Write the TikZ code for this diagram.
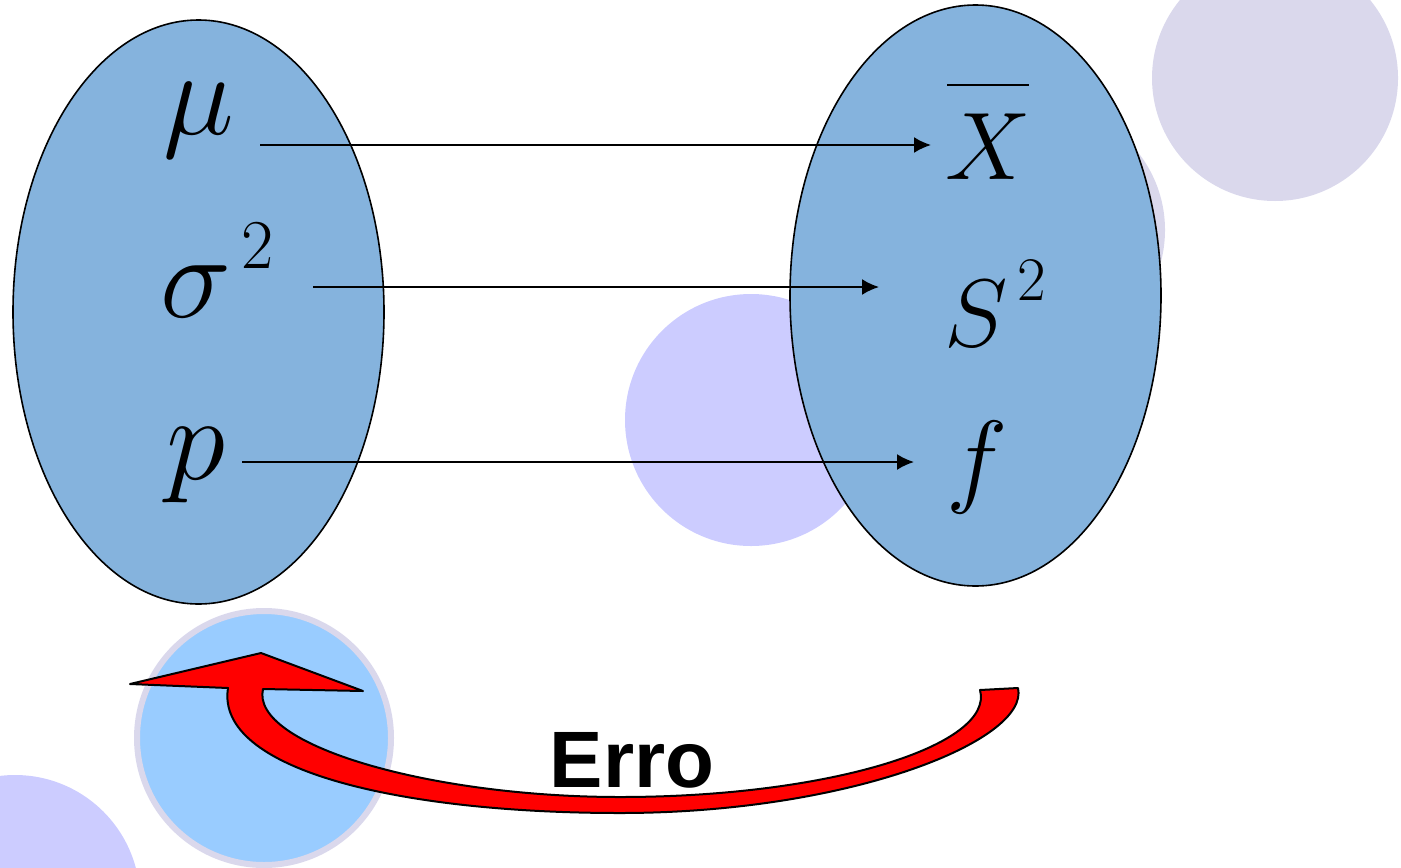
\RequirePackage{fix-cm}
\documentclass[tikz,border=0pt]{standalone}
\usepackage{fontspec}
\newfontfamily\errofont{Liberation Sans}
\usetikzlibrary{arrows.meta}
\definecolor{conjazul}{RGB}{133,179,221}
\definecolor{lavanda}{RGB}{218,216,236}
\definecolor{lilas}{RGB}{204,204,255}
\definecolor{celeste}{RGB}{153,204,255}
\newcommand{\expdois}[2]{\raisebox{#1}{\fontsize{#2}{40}\selectfont 2}}

\begin{document}
\begin{tikzpicture}[>={Latex[length=8.5pt,width=8pt]}, x=0.5pt, y=-0.5pt,
    conj/.style={draw=black, line width=0.8pt, fill=conjazul},
    simb/.style={inner sep=0pt, anchor=base west},
    seta/.style={->, line width=1pt}]
    \useasboundingbox (0,0) rectangle (1401,867);

    % Círculos de fundo
    \fill[lavanda] (1275,78) circle (123);
    \fill[lavanda] (1040,230) circle (125);
    \fill[lilas] (751,420) circle (126);
    \fill[lilas] (15,900) circle (125);

    % Conjuntos: parâmetros e estimadores
    \draw[conj] (198.5,312) ellipse (185.5 and 292);
    \draw[conj] (975.5,295.5) ellipse (185.5 and 290.5);
    \draw[draw=lavanda, line width=3pt, fill=celeste] (264,738) circle (127);

    % Símbolos
    \node[simb, font=\fontsize{60}{70}\selectfont] (mu) at (163,134) {$\mu$};
    \node[simb, font=\fontsize{60}{70}\selectfont] (sigma) at (160,317) {$\sigma$\kern5pt\expdois{24.5pt}{35}};
    \node[simb, font=\fontsize{60}{70}\selectfont] (p) at (166,479) {$p$};
    \node[simb, font=\fontsize{48}{56}\selectfont] (xbar) at (945,179) {$X$};
    \draw[line width=1.4pt] (947,85) -- (1029,85);
    \node[simb, font=\fontsize{48}{56}\selectfont] (s2) at (944,346) {$S$\kern5pt\expdois{23pt}{31}};
    \node[simb, font=\fontsize{52}{60}\selectfont] (f) at (946,493) {$f$};

    % Setas
    \coordinate (mu-a) at (260,145);   \coordinate (xbar-a) at (931,145);
    \coordinate (sig-a) at (313,287);  \coordinate (s2-a) at (879,287);
    \coordinate (p-a) at (242,462);    \coordinate (f-a) at (914,462);
    \draw[seta] (mu-a) -- (xbar-a);
    \draw[seta] (sig-a) -- (s2-a);
    \draw[seta] (p-a) -- (f-a);

    % Seta curva do erro
    \draw[line width=1pt, line join=round, fill=red]
        (980,690) -- (1018,688)
        .. controls (1030,740) and (850,813) .. (620,813)
        .. controls (400,813) and (215,770) .. (228,688)
        -- (130,684) -- (261,653) -- (363,691) -- (263,689)
        .. controls (250,745) and (430,797) .. (620,797)
        .. controls (830,797) and (995,745) .. (980,690) -- cycle;
    \node[inner sep=0pt, anchor=base, font=\errofont\bfseries\fontsize{40}{48}\selectfont] (erro) at (632,787) {Erro};
\end{tikzpicture}
\end{document}
